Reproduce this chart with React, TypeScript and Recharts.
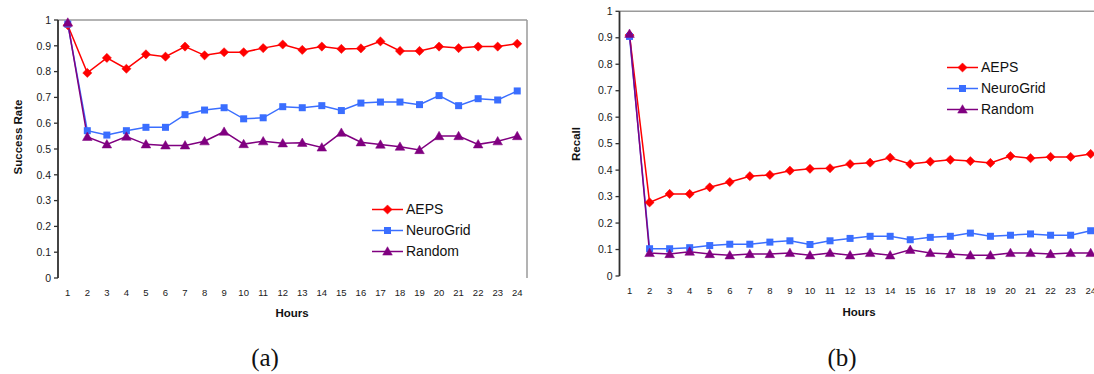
import React from 'react';
import { LineChart, Line, XAxis, YAxis, ReferenceLine, Legend } from 'recharts';

// ---------- data ----------
const hours = [1, 2, 3, 4, 5, 6, 7, 8, 9, 10, 11, 12, 13, 14, 15, 16, 17, 18, 19, 20, 21, 22, 23, 24];
const yTicks = [0, 0.1, 0.2, 0.3, 0.4, 0.5, 0.6, 0.7, 0.8, 0.9, 1];

const successAEPS = [0.98, 0.795, 0.853, 0.811, 0.867, 0.858, 0.897, 0.863, 0.875, 0.875, 0.891, 0.905, 0.884, 0.897, 0.888, 0.89, 0.917, 0.88, 0.88, 0.897, 0.891, 0.897, 0.897, 0.908];
const successNeuroGrid = [0.984, 0.571, 0.554, 0.571, 0.584, 0.584, 0.633, 0.651, 0.66, 0.617, 0.621, 0.664, 0.66, 0.668, 0.649, 0.678, 0.682, 0.682, 0.672, 0.707, 0.668, 0.695, 0.69, 0.725];
const successRandom = [0.99, 0.547, 0.518, 0.548, 0.518, 0.514, 0.514, 0.53, 0.567, 0.519, 0.53, 0.522, 0.524, 0.506, 0.563, 0.526, 0.517, 0.509, 0.496, 0.55, 0.55, 0.518, 0.53, 0.55];

const recallAEPS = [0.91, 0.278, 0.31, 0.31, 0.335, 0.355, 0.377, 0.382, 0.398, 0.405, 0.407, 0.423, 0.428, 0.447, 0.423, 0.432, 0.439, 0.434, 0.427, 0.453, 0.445, 0.45, 0.45, 0.461];
const recallNeuroGrid = [0.905, 0.103, 0.103, 0.107, 0.115, 0.12, 0.12, 0.128, 0.133, 0.119, 0.133, 0.142, 0.15, 0.15, 0.137, 0.146, 0.15, 0.162, 0.15, 0.154, 0.159, 0.154, 0.154, 0.171];
const recallRandom = [0.915, 0.087, 0.083, 0.092, 0.083, 0.078, 0.083, 0.083, 0.087, 0.078, 0.087, 0.078, 0.087, 0.078, 0.099, 0.087, 0.083, 0.078, 0.078, 0.087, 0.087, 0.083, 0.087, 0.087];

const seriesNames = ['AEPS', 'NeuroGrid', 'Random'];
const seriesKeys = ['aeps', 'neurogrid', 'random'];
const seriesColors = ['#FF0000', '#3A6EFF', '#800080'];
const seriesShapes = ['diamond', 'square', 'triangle'];

// ---------- helpers ----------
const FONT = '"Liberation Sans", Arial, Helvetica, sans-serif';
const AXIS = '#303030';
const boundaries = hours.map((h) => h - 0.5).concat([hours[hours.length - 1] + 0.5]);
const xDomain = [boundaries[0], boundaries[boundaries.length - 1]];

function makeRows(a: number[], b: number[], c: number[]) {
  return hours.map((h, i) => ({ hour: h, aeps: a[i], neurogrid: b[i], random: c[i] }));
}

function Marker({ shape, cx, cy, color }: { shape: string; cx: number; cy: number; color: string }) {
  if (shape === 'diamond') {
    const r = 4.6;
    return <polygon points={`${cx},${cy - r} ${cx + r},${cy} ${cx},${cy + r} ${cx - r},${cy}`} fill={color} stroke={color} strokeWidth={0.5} />;
  }
  if (shape === 'square') {
    const s = 7;
    return <rect x={cx - s / 2} y={cy - s / 2} width={s} height={s} fill={color} />;
  }
  const r = 4.8;
  return <polygon points={`${cx},${cy - r} ${cx + r},${cy + 3.6} ${cx - r},${cy + 3.6}`} fill={color} stroke={color} strokeWidth={0.5} />;
}

function makeDot(shape: string, color: string) {
  return (props: any) => {
    const { cx, cy, index } = props;
    if (cx == null || cy == null) return <g key={`d-${index}`} />;
    return (
      <g key={`d-${shape}-${index}`}>
        <Marker shape={shape} cx={cx} cy={cy} color={color} />
      </g>
    );
  };
}

function LegendContent(props: any) {
  const payload = props.payload || [];
  return (
    <div style={{ fontFamily: FONT, fontSize: 14, color: '#111' }}>
      {payload.map((entry: any, i: number) => {
        const idx = seriesNames.indexOf(entry.value);
        const color = seriesColors[idx];
        return (
          <div key={`lg-${i}`} style={{ display: 'flex', alignItems: 'center', height: 21, whiteSpace: 'nowrap' }}>
            <svg width={34} height={21} style={{ display: 'block' }}>
              <line x1={0} x2={31} y1={10.5} y2={10.5} stroke={color} strokeWidth={1.5} />
              <Marker shape={seriesShapes[idx]} cx={15.5} cy={10.5} color={color} />
            </svg>
            <span style={{ lineHeight: '21px' }}>{entry.value}</span>
          </div>
        );
      })}
    </div>
  );
}

type PanelProps = {
  left: number;
  width: number;
  height: number;
  yAxisWidth: number;
  marginTop: number;
  marginRight: number;
  xAxisHeight: number;
  rows: any[];
  legendLeft: number;
  legendTop: number;
};

function Panel(p: PanelProps) {
  return (
    <div style={{ position: 'absolute', left: p.left, top: 0 }}>
      <LineChart width={p.width} height={p.height} data={p.rows} margin={{ top: p.marginTop, right: p.marginRight, bottom: 0, left: 0 }}>
        <XAxis
          xAxisId="b"
          type="number"
          dataKey="hour"
          domain={xDomain}
          ticks={boundaries}
          interval={0}
          tick={false}
          tickSize={4}
          height={0}
          axisLine={{ stroke: AXIS, strokeWidth: 1.8 }}
          tickLine={{ stroke: AXIS, strokeWidth: 1.3 }}
        />
        <XAxis
          xAxisId="l"
          type="number"
          dataKey="hour"
          domain={xDomain}
          ticks={hours}
          interval={0}
          axisLine={false}
          tickLine={false}
          tickSize={4}
          tickMargin={7}
          height={p.xAxisHeight}
          tick={{ fontSize: 9.5, fill: '#1a1a1a', fontFamily: FONT }}
        />
        <YAxis
          type="number"
          domain={[0, 1]}
          ticks={yTicks}
          interval={0}
          width={p.yAxisWidth}
          tickSize={4}
          tickMargin={3}
          axisLine={{ stroke: AXIS, strokeWidth: 1.8 }}
          tickLine={{ stroke: AXIS, strokeWidth: 1.3 }}
          tick={{ fontSize: 10.5, fill: '#1a1a1a', fontFamily: FONT }}
          tickFormatter={(v: number) => String(v)}
        />
        <ReferenceLine xAxisId="b" y={1} stroke="#9a9a9a" strokeWidth={1.5} />
        <ReferenceLine xAxisId="b" x={xDomain[1]} stroke="#9a9a9a" strokeWidth={1.5} />
        {seriesKeys.map((k, i) => (
          <Line
            key={k}
            xAxisId="b"
            type="linear"
            dataKey={k}
            name={seriesNames[i]}
            stroke={seriesColors[i]}
            strokeWidth={1.5}
            dot={makeDot(seriesShapes[i], seriesColors[i])}
            activeDot={false}
            isAnimationActive={false}
          />
        ))}
        <Legend
          layout="vertical"
          align="center"
          verticalAlign="middle"
          content={LegendContent}
          wrapperStyle={{ left: p.legendLeft, top: p.legendTop, width: 160, height: 63 }}
        />
      </LineChart>
    </div>
  );
}

export default function App() {
  const rowsA = makeRows(successAEPS, successNeuroGrid, successRandom);
  const rowsB = makeRows(recallAEPS, recallNeuroGrid, recallRandom);
  return (
    <div style={{ position: 'fixed', left: 0, top: 0, width: 1094, height: 374, overflow: 'hidden', background: '#fff' }}>
      <Panel left={0} width={540} height={330} yAxisWidth={58} marginTop={20} marginRight={13} xAxisHeight={52} rows={rowsA} legendLeft={372} legendTop={198.5} />
      <Panel left={560} width={560} height={330} yAxisWidth={59.5} marginTop={11.3} marginRight={19.3} xAxisHeight={54} rows={rowsB} legendLeft={387} legendTop={56.5} />
      <svg width={1094} height={374} style={{ position: 'absolute', left: 0, top: 0, pointerEvents: 'none' }}>
        <text x={18} y={137} transform="rotate(-90 18 137)" textAnchor="middle" dominantBaseline="central" fontFamily={FONT} fontWeight="bold" fontSize={11.5} fill="#111">Success Rate</text>
        <text x={292} y={313} textAnchor="middle" dominantBaseline="central" fontFamily={FONT} fontWeight="bold" fontSize={11.5} fill="#111">Hours</text>
        <text x={576} y={144} transform="rotate(-90 576 144)" textAnchor="middle" dominantBaseline="central" fontFamily={FONT} fontWeight="bold" fontSize={11.5} fill="#111">Recall</text>
        <text x={859} y={312} textAnchor="middle" dominantBaseline="central" fontFamily={FONT} fontWeight="bold" fontSize={11.5} fill="#111">Hours</text>
        <text x={265} y={366} textAnchor="middle" fontFamily='"Liberation Serif", "Times New Roman", serif' fontSize={25} fill="#111">(a)</text>
        <text x={842} y={366} textAnchor="middle" fontFamily='"Liberation Serif", "Times New Roman", serif' fontSize={25} fill="#111">(b)</text>
      </svg>
    </div>
  );
}
